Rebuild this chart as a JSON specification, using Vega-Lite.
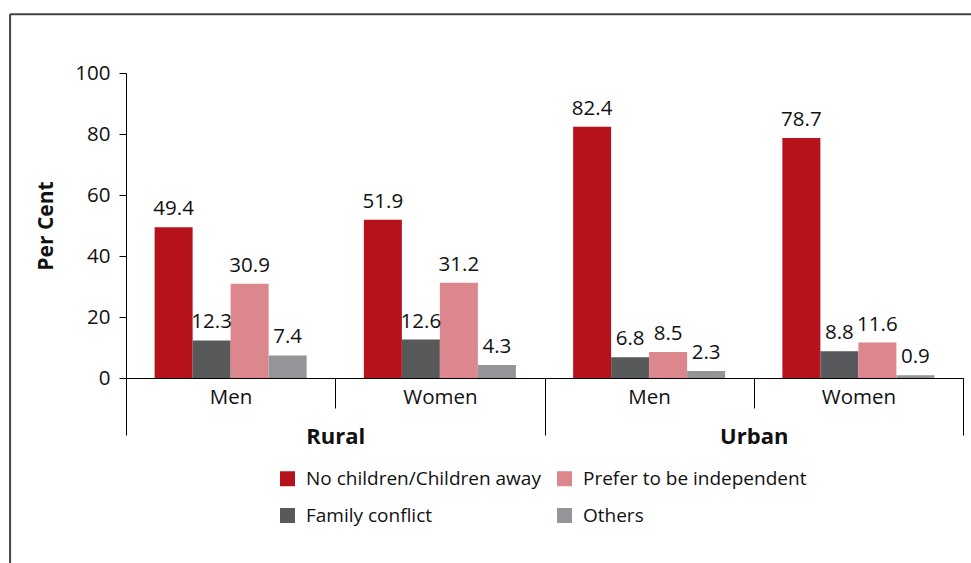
{
  "$schema": "https://vega.github.io/schema/vega-lite/v6.json",
  "width": 837,
  "height": 305,
  "autosize": "none",
  "padding": {"left": 126, "top": 73, "right": 8, "bottom": 185},
  "config": {
    "font": "Open Sans",
    "view": {"stroke": null},
    "axis": {"grid": false, "domainColor": "#000000", "tickColor": "#000000", "labelColor": "#111111", "titleColor": "#111111", "domainWidth": 1, "tickWidth": 1}
  },
  "data": {
    "values": [
      {"group": "Rural Men", "area": "Rural", "cause": "No children/Children away", "value": 49.4},
      {"group": "Rural Men", "area": "Rural", "cause": "Family conflict", "value": 12.3},
      {"group": "Rural Men", "area": "Rural", "cause": "Prefer to be independent", "value": 30.9},
      {"group": "Rural Men", "area": "Rural", "cause": "Others", "value": 7.4},
      {"group": "Rural Women", "area": "Rural", "cause": "No children/Children away", "value": 51.9},
      {"group": "Rural Women", "area": "Rural", "cause": "Family conflict", "value": 12.6},
      {"group": "Rural Women", "area": "Rural", "cause": "Prefer to be independent", "value": 31.2},
      {"group": "Rural Women", "area": "Rural", "cause": "Others", "value": 4.3},
      {"group": "Urban Men", "area": "Urban", "cause": "No children/Children away", "value": 82.4},
      {"group": "Urban Men", "area": "Urban", "cause": "Family conflict", "value": 6.8},
      {"group": "Urban Men", "area": "Urban", "cause": "Prefer to be independent", "value": 8.5},
      {"group": "Urban Men", "area": "Urban", "cause": "Others", "value": 2.3},
      {"group": "Urban Women", "area": "Urban", "cause": "No children/Children away", "value": 78.7},
      {"group": "Urban Women", "area": "Urban", "cause": "Family conflict", "value": 8.8},
      {"group": "Urban Women", "area": "Urban", "cause": "Prefer to be independent", "value": 11.6},
      {"group": "Urban Women", "area": "Urban", "cause": "Others", "value": 0.9}
    ]
  },
  "resolve": {"scale": {"x": "independent"}, "axis": {"x": "independent"}},
  "layer": [
    {
      "encoding": {
        "x": {
          "field": "group", "type": "nominal",
          "scale": {"domain": ["Rural Men", "Rural Women", "Urban Men", "Urban Women"], "paddingInner": 0, "paddingOuter": 0},
          "axis": {"title": null, "labelExpr": "split(datum.label, ' ')[1]", "tickBand": "extent", "tickSize": 30, "labelPadding": -21, "labelAngle": 0, "labelFontSize": 20.5}
        },
        "xOffset": {
          "field": "cause", "type": "nominal",
          "scale": {"domain": ["No children/Children away", "Family conflict", "Prefer to be independent", "Others"], "paddingInner": 0, "paddingOuter": 0.753}
        },
        "y": {
          "field": "value", "type": "quantitative",
          "scale": {"domain": [0, 100], "nice": false},
          "axis": {"title": "Per Cent", "values": [0, 20, 40, 60, 80, 100], "tickSize": 7, "labelFontSize": 20.5, "labelPadding": 9, "titleFontSize": 21, "titleFontWeight": "bold", "titlePadding": 18}
        }
      },
      "layer": [
        {
          "mark": {"type": "bar"},
          "encoding": {
            "color": {
              "field": "cause", "type": "nominal",
              "scale": {"domain": ["No children/Children away", "Family conflict", "Prefer to be independent", "Others"], "range": ["#B5121B", "#58595B", "#DC868E", "#939598"]},
              "legend": {"title": null, "orient": "none", "legendX": 152, "legendY": 396, "columns": 2, "symbolType": "square", "symbolSize": 225, "symbolStrokeWidth": 0, "labelFontSize": 19, "labelLimit": 500, "labelColor": "#111111", "labelOffset": 9, "rowPadding": 17, "columnPadding": 14}
            }
          }
        },
        {
          "mark": {"type": "text", "baseline": "alphabetic", "dy": -12, "fontSize": 20.5, "color": "#111111"},
          "encoding": {"text": {"field": "value", "type": "quantitative", "format": ".1f"}}
        }
      ]
    },
    {
      "mark": {"type": "bar", "opacity": 0},
      "encoding": {
        "x": {
          "field": "area", "type": "nominal",
          "scale": {"domain": ["Rural", "Urban"], "paddingInner": 0, "paddingOuter": 0},
          "axis": {"orient": "bottom", "title": null, "domain": false, "tickBand": "extent", "tickSize": 57, "labelPadding": -9, "labelAngle": 0, "labelFontSize": 22, "labelFontWeight": "bold"}
        },
        "y": {"field": "value", "type": "quantitative"}
      }
    },
    {
      "data": {"values": [{}]},
      "mark": {"type": "rule", "color": "#444444", "strokeWidth": 2},
      "encoding": {
        "x": {"datum": -0.554, "type": "quantitative", "scale": {"domain": [0, 4], "nice": false, "zero": false}, "axis": null},
        "x2": {"datum": 4.04},
        "y": {"datum": 119.3, "type": "quantitative"}
      }
    },
    {
      "data": {"values": [{}]},
      "mark": {"type": "rule", "color": "#444444", "strokeWidth": 2},
      "encoding": {
        "x": {"datum": -0.554, "type": "quantitative", "scale": {"domain": [0, 4], "nice": false, "zero": false}, "axis": null},
        "y": {"datum": 119.3, "type": "quantitative"},
        "y2": {"datum": -60.7}
      }
    }
  ]
}
